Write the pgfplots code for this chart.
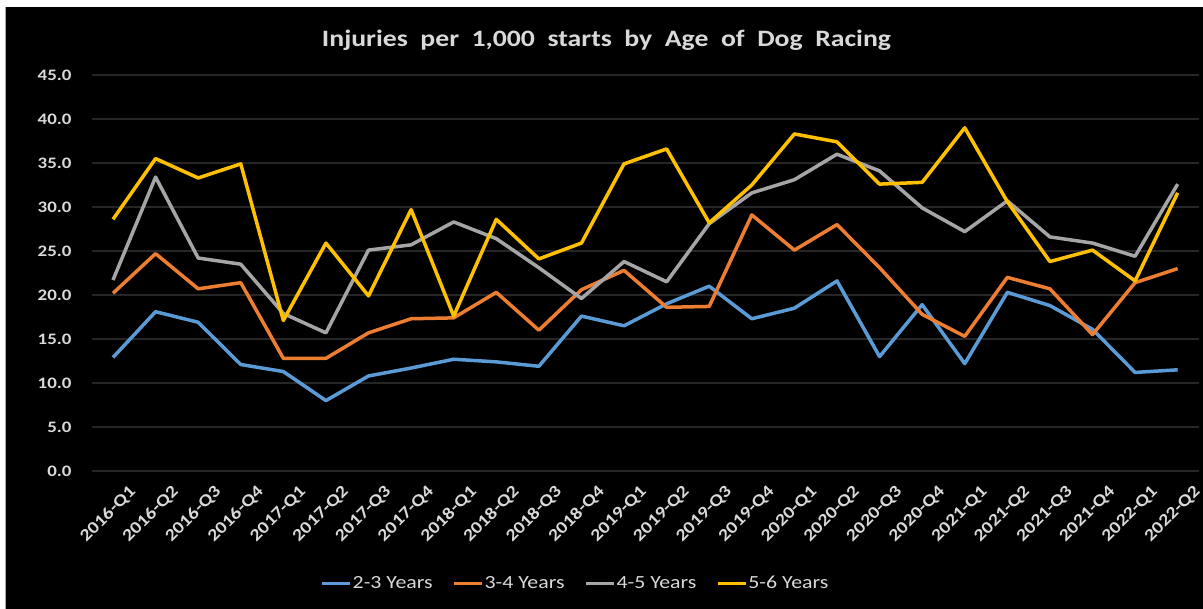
\documentclass[border=0pt]{standalone}
\usepackage{pgfplots}
\pgfplotsset{compat=1.18}
\usepackage{fontspec}
\setmainfont{Carlito}[FakeStretch=1.18]
\definecolor{sblue}{HTML}{5B9BD5}
\definecolor{sorange}{HTML}{ED7D31}
\definecolor{sgray}{HTML}{A5A5A5}
\definecolor{syellow}{HTML}{FFC000}
\definecolor{gridc}{HTML}{262626}
\definecolor{labc}{HTML}{D9D9D9}
\begin{document}
\begin{tikzpicture}
\useasboundingbox (0,0) rectangle (1203pt,609pt);
\fill[white] (0,0) rectangle (1203pt,609pt);
\fill[black] (6pt,0) rectangle (1203pt,602pt);
\draw[gray!70, line width=1pt] (5.5pt,0) -- (5.5pt,602pt);
\begin{axis}[
  at={(91.7pt,138pt)}, anchor=south west,
  width=1107.3pt, height=396pt, scale only axis,
  xmin=-0.5, xmax=25.5, ymin=0, ymax=45,
  xtick={0,...,25},
  xticklabels={2016-Q1,2016-Q2,2016-Q3,2016-Q4,2017-Q1,2017-Q2,2017-Q3,2017-Q4,2018-Q1,2018-Q2,2018-Q3,2018-Q4,2019-Q1,2019-Q2,2019-Q3,2019-Q4,2020-Q1,2020-Q2,2020-Q3,2020-Q4,2021-Q1,2021-Q2,2021-Q3,2021-Q4,2022-Q1,2022-Q2},
  ytick={0,5,...,45},
  yticklabel style={/pgf/number format/fixed, /pgf/number format/fixed zerofill, /pgf/number format/precision=1, /pgf/number format/assume math mode=true},
  y tick label style={font=\bfseries\fontsize{16}{16}\selectfont, text=labc, anchor=east, inner sep=0pt, xshift=-20pt},
  x tick label style={font=\bfseries\fontsize{17}{17}\selectfont, text=labc, rotate=45, anchor=north east, inner sep=0pt, yshift=-20pt, xshift=1.5pt},
  major tick length=0pt,
  axis line style={draw=none},
  ymajorgrids, grid style={gridc, line width=1.5pt},
  legend columns=4,
  legend style={at={(0.4365,-0.283)}, anchor=center, draw=none, fill=none,
    font=\fontsize{18.5}{18.5}\selectfont, text=labc,
    nodes={inner sep=1pt},
    /tikz/every even column/.append style={column sep=19pt}},
  legend image code/.code={\draw[#1, line width=3pt] (0pt,0pt) -- (28pt,0pt);},
  every axis plot/.append style={line width=3.5pt, line join=round},
]
\addplot[sblue] coordinates {(0,12.9)(1,18.1)(2,16.9)(3,12.1)(4,11.3)(5,8.0)(6,10.8)(7,11.7)(8,12.7)(9,12.4)(10,11.9)(11,17.6)(12,16.5)(13,19.0)(14,21.0)(15,17.3)(16,18.5)(17,21.6)(18,13.0)(19,18.9)(20,12.2)(21,20.3)(22,18.8)(23,16.1)(24,11.2)(25,11.5)};
\addlegendentry{2-3 Years}
\addplot[sorange] coordinates {(0,20.2)(1,24.7)(2,20.7)(3,21.4)(4,12.8)(5,12.8)(6,15.7)(7,17.3)(8,17.4)(9,20.3)(10,16.0)(11,20.6)(12,22.8)(13,18.6)(14,18.7)(15,29.1)(16,25.1)(17,28.0)(18,23.1)(19,17.8)(20,15.3)(21,22.0)(22,20.7)(23,15.5)(24,21.4)(25,23.0)};
\addlegendentry{3-4 Years}
\addplot[sgray] coordinates {(0,21.7)(1,33.4)(2,24.2)(3,23.5)(4,17.9)(5,15.7)(6,25.1)(7,25.7)(8,28.3)(9,26.4)(10,23.1)(11,19.6)(12,23.8)(13,21.5)(14,28.1)(15,31.6)(16,33.1)(17,36.0)(18,34.1)(19,29.9)(20,27.2)(21,30.7)(22,26.6)(23,25.9)(24,24.4)(25,32.6)};
\addlegendentry{4-5 Years}
\addplot[syellow] coordinates {(0,28.6)(1,35.5)(2,33.3)(3,34.9)(4,17.1)(5,25.9)(6,19.9)(7,29.7)(8,17.6)(9,28.6)(10,24.1)(11,25.9)(12,34.9)(13,36.6)(14,28.2)(15,32.5)(16,38.3)(17,37.4)(18,32.6)(19,32.8)(20,39.0)(21,30.6)(22,23.8)(23,25.1)(24,21.6)(25,31.6)};
\addlegendentry{5-6 Years}
\end{axis}
\node[font=\bfseries\fontsize{23.5}{23.5}\selectfont, text=labc] at (606.5pt,569pt) {Injuries\ \ per\ \ 1,000\ \ starts\ \ by\ \ Age\ \ of\ \ Dog\ \ Racing};
\end{tikzpicture}
\end{document}
